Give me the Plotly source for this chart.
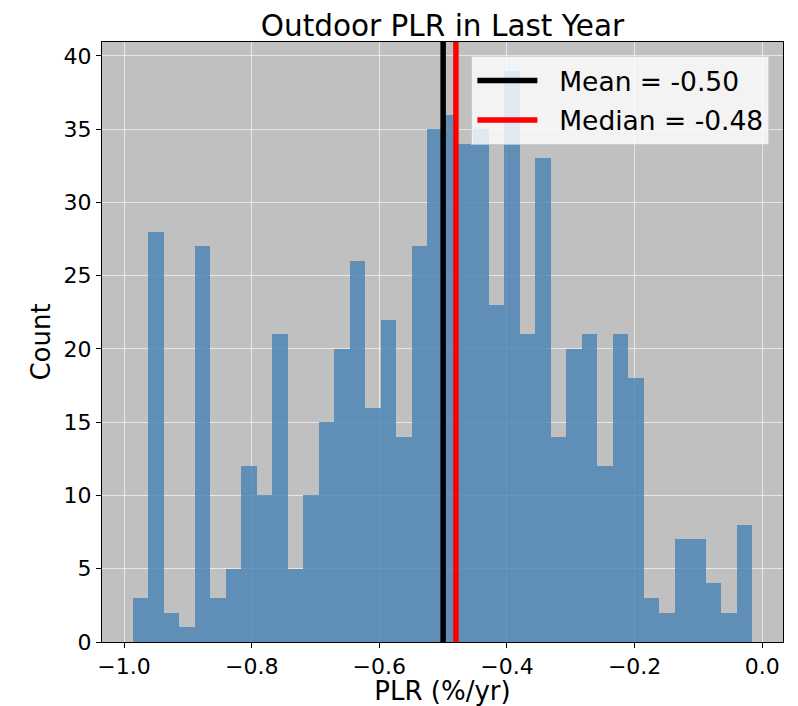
import plotly.graph_objects as go

# Histogram of outdoor PLR values (40 equal-width bins)
bin_start = -0.986
bin_end = -0.016
counts = [3, 28, 2, 1, 27, 3, 5, 12, 10, 21,
          5, 10, 15, 20, 26, 16, 22, 14, 27, 35,
          36, 34, 35, 23, 39, 21, 33, 14, 20, 21,
          12, 21, 18, 3, 2, 7, 7, 4, 2, 8]

mean_plr = -0.50
median_plr = -0.48

x_tick_vals = [-1.0, -0.8, -0.6, -0.4, -0.2, 0.0]
x_tick_text = ["\u22121.0", "\u22120.8", "\u22120.6", "\u22120.4", "\u22120.2", "0.0"]
y_tick_vals = [0, 5, 10, 15, 20, 25, 30, 35, 40]

n_bins = len(counts)
bin_width = (bin_end - bin_start) / n_bins
centers = [bin_start + (i + 0.5) * bin_width for i in range(n_bins)]

FONT = "DejaVu Sans"
NBSP = "\u00a0"
y_top = max(counts) * 1.05
span = bin_end - bin_start
x_range = [bin_start - 0.05 * span, bin_end + 0.05 * span]

fig = go.Figure()
fig.add_trace(go.Bar(
    x=centers, y=counts, width=bin_width,
    marker=dict(color="rgba(70,130,180,0.8)", line=dict(width=0)),
    showlegend=False, hoverinfo="x+y",
))
fig.add_trace(go.Scatter(
    x=[mean_plr, mean_plr], y=[0, y_top * 1.1], mode="lines",
    line=dict(color="black", width=5.5),
    name=NBSP * 2 + f"Mean = {mean_plr:.2f}", legendgroup="mean",
))
fig.add_trace(go.Scatter(
    x=[median_plr, median_plr], y=[0, y_top * 1.1], mode="lines",
    line=dict(color="red", width=5.5),
    name=NBSP * 2 + f"Median = {median_plr:.2f}", legendgroup="median",
))

fig.update_layout(
    width=798, height=706,
    margin=dict(l=102, r=15, t=42, b=64),
    paper_bgcolor="white",
    plot_bgcolor="#c0c0c0",
    font=dict(family=FONT, color="black", size=22),
    bargap=0,
    title=dict(
        text="Outdoor PLR in Last Year",
        font=dict(family=FONT, size=29.5, color="black"),
        x=0.5, xref="paper", xanchor="center",
        y=1, yref="paper", yanchor="bottom",
        pad=dict(b=6),
    ),
    legend=dict(
        x=0.98, y=0.977, xanchor="right", yanchor="top",
        bgcolor="rgba(255,255,255,0.8)",
        bordercolor="rgba(204,204,204,0.8)", borderwidth=1,
        font=dict(family=FONT, size=26.5, color="black"),
        itemwidth=60, tracegroupgap=2, traceorder="grouped",
    ),
    xaxis=dict(
        range=x_range, automargin=False,
        tickvals=x_tick_vals, ticktext=x_tick_text,
        tickfont=dict(size=22),
        ticks="outside", ticklen=5, tickcolor="black",
        showline=True, linecolor="black", linewidth=1, mirror=True,
        showgrid=True, gridcolor="rgba(255,255,255,0.6)", gridwidth=1,
        zeroline=False,
        title=dict(text="PLR (%/yr)", font=dict(size=26), standoff=6),
    ),
    yaxis=dict(
        range=[0, y_top], automargin=False,
        tickvals=y_tick_vals,
        tickfont=dict(size=22),
        ticks="outside", ticklen=5, tickcolor="black",
        showline=True, linecolor="black", linewidth=1, mirror=True,
        showgrid=True, gridcolor="rgba(255,255,255,0.6)", gridwidth=1,
        zeroline=False,
        title=dict(text="Count", font=dict(size=26), standoff=5),
    ),
)

fig.write_html("out.html")
